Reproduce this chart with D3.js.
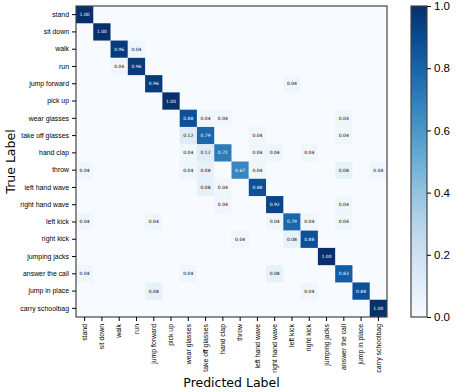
<!DOCTYPE html>
<html>
<head>
<meta charset="utf-8">
<script src="https://cdn.jsdelivr.net/npm/d3@7"></script>
<style>
  body { margin: 0; background: white; }
  svg { display: block; font-family: "DejaVu Sans", sans-serif; }
</style>
</head>
<body>
<div id="cm"></div>
<script>
const labels = ["stand", "sit down", "walk", "run", "jump forward", "pick up",
  "wear glasses", "take off glasses", "hand clap", "throw", "left hand wave",
  "right hand wave", "left kick", "right kick", "jumping jacks",
  "answer the call", "jump in place", "carry schoolbag"];

// non-zero cells: [true row, predicted col, value]
const cells = [
  [0, 0, 1.00],
  [1, 1, 1.00],
  [2, 2, 0.96], [2, 3, 0.04],
  [3, 2, 0.04], [3, 3, 0.96],
  [4, 4, 0.96], [4, 12, 0.04],
  [5, 5, 1.00],
  [6, 6, 0.88], [6, 7, 0.04], [6, 8, 0.04], [6, 15, 0.04],
  [7, 6, 0.12], [7, 7, 0.79], [7, 10, 0.04], [7, 15, 0.04],
  [8, 6, 0.04], [8, 7, 0.12], [8, 8, 0.71], [8, 10, 0.04], [8, 11, 0.04], [8, 13, 0.04],
  [9, 0, 0.04], [9, 6, 0.04], [9, 7, 0.08], [9, 9, 0.67], [9, 10, 0.04], [9, 15, 0.08], [9, 17, 0.04],
  [10, 7, 0.08], [10, 8, 0.04], [10, 10, 0.88],
  [11, 8, 0.04], [11, 11, 0.92], [11, 15, 0.04],
  [12, 0, 0.04], [12, 4, 0.04], [12, 11, 0.04], [12, 12, 0.79], [12, 13, 0.04], [12, 15, 0.04],
  [13, 9, 0.04], [13, 12, 0.08], [13, 13, 0.88],
  [14, 14, 1.00],
  [15, 0, 0.04], [15, 6, 0.04], [15, 11, 0.08], [15, 15, 0.83],
  [16, 4, 0.08], [16, 13, 0.04], [16, 16, 0.88],
  [17, 17, 1.00]
];

const colorTicks = [0, 0.2, 0.4, 0.6, 0.8, 1.0];

const width = 457, height = 392;
const plot = {left: 76, top: 6, size: 311};
const bar = {left: 411, width: 16};

const svg = d3.select('#cm').append('svg')
  .attr('width', width).attr('height', height);

const x = d3.scaleBand().domain(d3.range(labels.length))
  .range([plot.left, plot.left + plot.size]);
const y = d3.scaleBand().domain(d3.range(labels.length))
  .range([plot.top, plot.top + plot.size]);
const color = d3.scaleSequential(d3.interpolateBlues).domain([0, 1]);

// background = zero value
svg.append('rect')
  .attr('x', plot.left).attr('y', plot.top)
  .attr('width', plot.size).attr('height', plot.size)
  .attr('fill', color(0));

svg.append('g').selectAll('rect')
  .data(cells)
  .join('rect')
  .attr('x', d => x(d[1]))
  .attr('y', d => y(d[0]))
  .attr('width', x.bandwidth())
  .attr('height', y.bandwidth())
  .attr('fill', d => color(d[2]));

svg.append('g').selectAll('text')
  .data(cells)
  .join('text')
  .attr('x', d => x(d[1]) + x.bandwidth() / 2)
  .attr('y', d => y(d[0]) + y.bandwidth() / 2)
  .attr('text-anchor', 'middle')
  .attr('dominant-baseline', 'central')
  .style('font-size', '4.5px')
  .attr('fill', d => d[2] > 0.5 ? 'white' : 'black')
  .text(d => d[2].toFixed(2));

svg.append('rect')
  .attr('x', plot.left).attr('y', plot.top)
  .attr('width', plot.size).attr('height', plot.size)
  .attr('fill', 'none').attr('stroke', '#444').attr('stroke-width', 1.2);

// axes
const yAxis = svg.append('g')
  .attr('transform', `translate(${plot.left},0)`)
  .call(d3.axisLeft(y).tickSize(4).tickPadding(3).tickFormat(i => labels[i]));
yAxis.select('.domain').remove();
yAxis.selectAll('text').style('font-size', '6.9px').attr('fill', '#000');

const xAxis = svg.append('g')
  .attr('transform', `translate(0,${plot.top + plot.size})`)
  .call(d3.axisBottom(x).tickSize(4).tickPadding(3).tickFormat(i => labels[i]));
xAxis.select('.domain').remove();
xAxis.selectAll('text')
  .style('font-size', '6.9px')
  .attr('fill', '#000')
  .attr('transform', 'rotate(-90)')
  .attr('x', -7).attr('y', 0).attr('dy', '0.32em')
  .style('text-anchor', 'end');

svg.append('text')
  .attr('transform', `translate(15,${plot.top + plot.size / 2}) rotate(-90)`)
  .attr('text-anchor', 'middle')
  .style('font-size', '12.5px')
  .text('True Label');

svg.append('text')
  .attr('x', plot.left + plot.size / 2)
  .attr('y', 387)
  .attr('text-anchor', 'middle')
  .style('font-size', '12.5px')
  .text('Predicted Label');

// colorbar
const defs = svg.append('defs');
const grad = defs.append('linearGradient')
  .attr('id', 'cbar').attr('x1', 0).attr('y1', 1).attr('x2', 0).attr('y2', 0);
d3.range(0, 1.001, 0.1).forEach(t => {
  grad.append('stop').attr('offset', t).attr('stop-color', color(t));
});

const cy = d3.scaleLinear().domain([0, 1]).range([plot.top + plot.size, plot.top]);

svg.append('rect')
  .attr('x', bar.left).attr('y', plot.top)
  .attr('width', bar.width).attr('height', plot.size)
  .attr('fill', 'url(#cbar)')
  .attr('stroke', '#444').attr('stroke-width', 1.2);

const cAxis = svg.append('g')
  .attr('transform', `translate(${bar.left + bar.width},0)`)
  .call(d3.axisRight(cy).tickValues(colorTicks).tickSize(4).tickPadding(3).tickFormat(d3.format('.1f')));
cAxis.select('.domain').remove();
cAxis.selectAll('text').style('font-size', '11.5px').attr('fill', '#000');
</script>
</body>
</html>
